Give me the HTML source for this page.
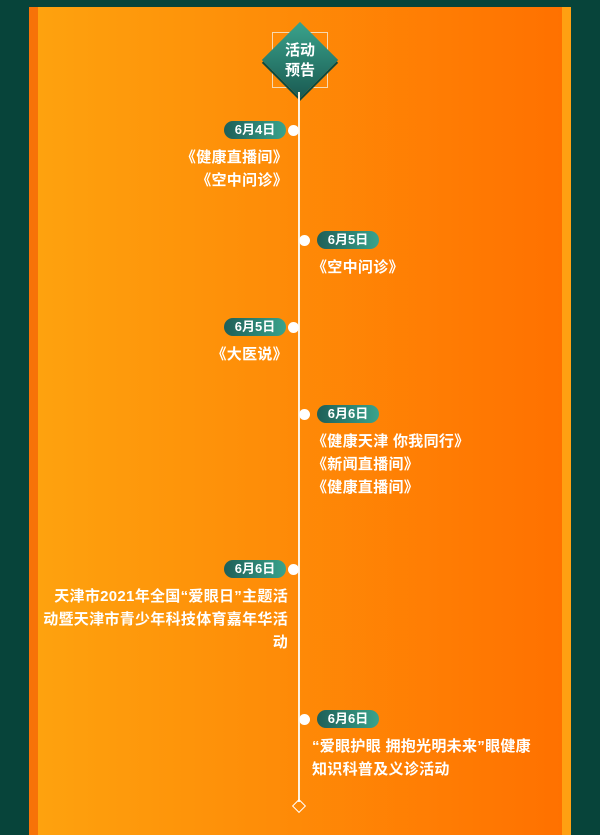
<!DOCTYPE html>
<html><head><meta charset="utf-8"><style>
body{margin:0;width:600px;height:835px;background:#07443a;position:relative;overflow:hidden;font-family:"Liberation Sans","Noto Sans CJK SC",sans-serif;}
.panel{position:absolute;left:29px;top:7px;width:542px;height:828px;background:linear-gradient(90deg,#f77308 0,#f77308 9px,#fea20e 9px,#ff7100 533px,#ffa012 533px);}
.line{position:absolute;left:298px;top:92px;width:1.5px;height:710px;background:#fff3e0;}
.dot{position:absolute;width:11px;height:11px;border-radius:50%;background:#fff;}
.pill{position:absolute;height:18px;line-height:18px;width:62px;border-radius:9px;background:linear-gradient(90deg,#1e5f58,#3aa38c);color:#fff;font-size:13px;font-weight:bold;text-align:center;}
.t{position:absolute;color:#fff;font-size:15px;font-weight:bold;line-height:23px;letter-spacing:0.3px;}
.l{right:312px;text-align:right;}
.r{left:312px;}
</style></head><body>
<div class="panel"></div>
<div style="position:absolute;left:272px;top:32px;width:56px;height:56px;border:1px solid #f6d9b0;box-sizing:border-box"></div>
<div style="position:absolute;left:273px;top:33px;width:54px;height:54px;transform:rotate(45deg);background:linear-gradient(135deg,#3aa38c,#1a5a52);box-shadow:2px 2px 0 #0e4a40"></div>
<div style="position:absolute;left:272px;top:41px;width:56px;text-align:center;color:#fff;font-size:15px;font-weight:bold;line-height:20px">活动<br>预告</div>
<div class="line"></div>
<div style="position:absolute;left:294px;top:801px;width:8px;height:8px;border:1.5px solid #fff;transform:rotate(45deg)"></div>

<div class="pill" style="left:224px;top:121px">6月4日</div><div class="dot" style="left:288px;top:125px"></div>
<div class="t l" style="top:146px">《健康直播间》<br>《空中问诊》</div>

<div class="dot" style="left:299px;top:235px"></div><div class="pill" style="left:317px;top:231px">6月5日</div>
<div class="t r" style="top:256px">《空中问诊》</div>

<div class="pill" style="left:224px;top:318px">6月5日</div><div class="dot" style="left:288px;top:322px"></div>
<div class="t l" style="top:343px">《大医说》</div>

<div class="dot" style="left:299px;top:409px"></div><div class="pill" style="left:317px;top:405px">6月6日</div>
<div class="t r" style="top:430px">《健康天津 你我同行》<br>《新闻直播间》<br>《健康直播间》</div>

<div class="pill" style="left:224px;top:560px">6月6日</div><div class="dot" style="left:288px;top:564px"></div>
<div class="t l" style="top:585px;width:250px">天津市2021年全国“爱眼日”主题活<br>动暨天津市青少年科技体育嘉年华活<br>动</div>

<div class="dot" style="left:299px;top:714px"></div><div class="pill" style="left:317px;top:710px">6月6日</div>
<div class="t r" style="top:735px;width:240px">“爱眼护眼 拥抱光明未来”眼健康<br>知识科普及义诊活动</div>
</body></html>
